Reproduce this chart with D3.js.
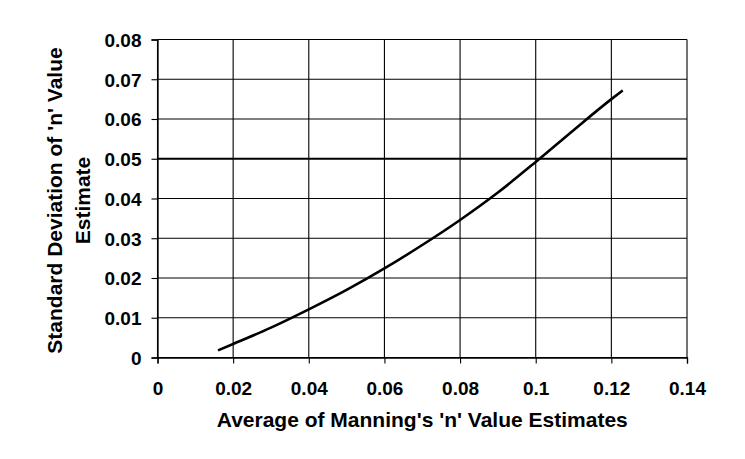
<!DOCTYPE html>
<html>
<head>
<meta charset="utf-8">
<script src="https://cdn.jsdelivr.net/npm/d3@7"></script>
<style>
  body { margin: 0; background: #fff; }
  svg { display: block; font-family: 'Liberation Sans', Arial, sans-serif; }
  .tick text { font-size: 19px; font-weight: bold; fill: #000; }
  .title { font-size: 21px; font-weight: bold; fill: #000; }
</style>
</head>
<body>
<script>
// values
const avgN = [0.016, 0.02, 0.03, 0.04, 0.05, 0.06, 0.07, 0.08, 0.09, 0.1, 0.11, 0.12, 0.123];
const sdN = [0.0018, 0.0034, 0.0075, 0.0121, 0.0170, 0.0224, 0.0283, 0.0346, 0.0415, 0.0492, 0.0572, 0.0650, 0.0672];
const xTicks = [0, 0.02, 0.04, 0.06, 0.08, 0.1, 0.12, 0.14];
const yTicks = [0, 0.01, 0.02, 0.03, 0.04, 0.05, 0.06, 0.07, 0.08];
const xTitle = "Average of Manning's 'n' Value Estimates";
const yTitle = ["Standard Deviation of 'n' Value", 'Estimate'];

const width = 745;
const height = 459;
const margin = { left: 157.5, right: 58, top: 39.5, bottom: 101.5 };

const svg = d3.select('body')
  .append('svg')
  .attr('width', width)
  .attr('height', height);

const x = d3.scaleLinear()
  .domain([0, 0.14])
  .range([margin.left, width - margin.right]);

const y = d3.scaleLinear()
  .domain([0, 0.08])
  .range([height - margin.bottom, margin.top]);

// grid
svg.append('g')
  .selectAll('line')
  .data(xTicks)
  .join('line')
  .attr('x1', d => x(d)).attr('x2', d => x(d))
  .attr('y1', y(0)).attr('y2', y(0.08))
  .attr('stroke', '#000')
  .attr('stroke-width', 1.1);

svg.append('g')
  .selectAll('line')
  .data(yTicks)
  .join('line')
  .attr('x1', x(0)).attr('x2', x(0.14))
  .attr('y1', d => y(d)).attr('y2', d => y(d))
  .attr('stroke', '#000')
  .attr('stroke-width', d => d === 0.05 ? 2 : 1.1);

const fmt = d => d === 0 ? '0' : String(+d.toFixed(2));

const xAxis = d3.axisBottom(x).tickValues(xTicks).tickFormat(fmt).tickSize(6).tickPadding(18);
const yAxis = d3.axisLeft(y).tickValues(yTicks).tickFormat(fmt).tickSize(6).tickPadding(10);

svg.append('g')
  .attr('transform', `translate(0,${y(0)})`)
  .call(xAxis)
  .call(g => g.select('.domain').attr('stroke-width', 1.3))
  .call(g => g.selectAll('.tick line').attr('stroke-width', 1.1));

svg.append('g')
  .attr('transform', `translate(${x(0)},0)`)
  .call(yAxis)
  .call(g => g.select('.domain').attr('stroke-width', 1.3))
  .call(g => g.selectAll('.tick line').attr('stroke-width', 1.1))
  .call(g => g.selectAll('.tick text').attr('dy', '0.36em'));

// curve
const line = d3.line()
  .x((d, i) => x(avgN[i]))
  .y(d => y(d))
  .curve(d3.curveMonotoneX);

svg.append('path')
  .datum(sdN)
  .attr('d', line)
  .attr('fill', 'none')
  .attr('stroke', '#000')
  .attr('stroke-width', 2.6);

// titles
svg.append('text')
  .attr('class', 'title')
  .attr('x', (x(0) + x(0.14)) / 2)
  .attr('y', 427)
  .attr('text-anchor', 'middle')
  .text(xTitle);

svg.append('text')
  .attr('class', 'title')
  .attr('transform', `translate(62,${(y(0) + y(0.08)) / 2 + 2}) rotate(-90)`)
  .attr('text-anchor', 'middle')
  .selectAll('tspan')
  .data(yTitle)
  .join('tspan')
  .attr('x', 0)
  .attr('dy', (d, i) => i === 0 ? 0 : 28)
  .text(d => d);
</script>
</body>
</html>
